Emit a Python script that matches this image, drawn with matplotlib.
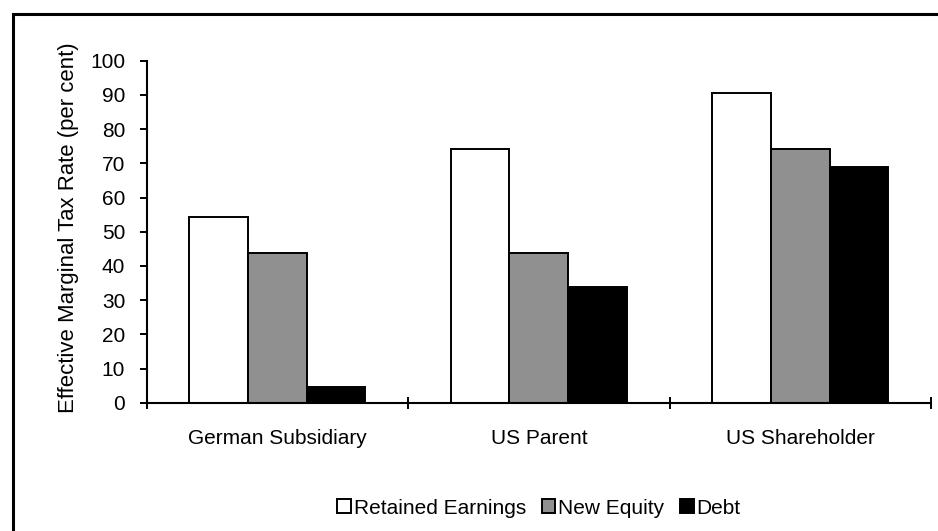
import matplotlib
matplotlib.use("Agg")
import matplotlib.pyplot as plt
import numpy as np
from matplotlib.patches import Rectangle

plt.rcParams['font.family'] = ['Liberation Sans', 'DejaVu Sans']

# -----------------------------
# Data
# -----------------------------
categories = ["German Subsidiary", "US Parent", "US Shareholder"]
series_names = ["Retained Earnings", "New Equity", "Debt"]
retained_earnings = [54.3, 74.3, 90.6]
new_equity = [43.9, 43.9, 74.3]
debt = [4.7, 33.9, 69.0]
y_ticks = list(range(0, 101, 10))

colors = ["white", "#909090", "black"]
fs = 15

fig = plt.figure(figsize=(9.38, 5.31), dpi=100)
ax = fig.add_axes([0.1564, 0.2416, 0.8361, 0.6441])

x = np.arange(len(categories))
w = 0.2245
for i, (vals, name) in enumerate(zip([retained_earnings, new_equity, debt], series_names)):
    ax.bar(x + (i - 1) * w, vals, width=w, color=colors[i], edgecolor="black",
           linewidth=1.4, label=name)

ax.set_xlim(-0.5, 2.5)
ax.set_ylim(0, 100)
ax.set_yticks(y_ticks)
ax.tick_params(axis="y", direction="out", length=5, width=1.4, pad=10.5, labelsize=fs)

# category boundaries get the tick marks, centres get the labels
ax.set_xticks([-0.5, 0.5, 1.5, 2.5])
ax.set_xticklabels([])
ax.tick_params(axis="x", which="major", direction="inout", length=9, width=1.4)
ax.set_xticks(x, minor=True)
ax.set_xticklabels(categories, minor=True)
ax.tick_params(axis="x", which="minor", length=0, pad=19, labelsize=fs)

for s in ["top", "right"]:
    ax.spines[s].set_visible(False)
for s in ["left", "bottom"]:
    ax.spines[s].set_linewidth(1.5)

ax.set_ylabel("Effective Marginal Tax Rate (per cent)", fontsize=15.9, labelpad=8)
ax.yaxis.label.set_y(0.512)

leg = fig.legend(loc="center", bbox_to_anchor=(0.5745, 0.043), ncol=3, frameon=False,
                 fontsize=fs, handlelength=0.65, handleheight=0.65, handletextpad=0.15,
                 columnspacing=0.75, borderpad=0)

# outer frame (left and top edges visible in the crop)
fig.patches.append(Rectangle((13 / 938, -0.1), 1.2, (531 - 13.5) / 531 + 0.1,
                             transform=fig.transFigure, fill=False,
                             edgecolor="black", linewidth=2.2))

fig.savefig("out.png", dpi=100)
